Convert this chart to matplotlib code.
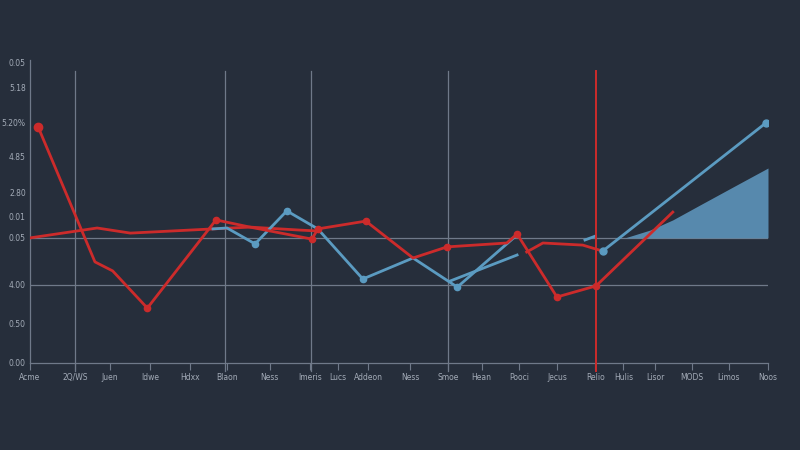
import matplotlib
matplotlib.use('Agg')
import matplotlib.pyplot as plt
import numpy as np

BG = '#262e3b'
GRID = '#6f7989'
TXT = '#a3abb7'
RED = '#cc2b2b'
BLUE = '#5b9bc1'

# --- data ---
x_ticks = [0, 6.1, 10.8, 16.3, 21.7, 26.7, 32.5, 37.9, 41.7, 45.8, 51.5,
           56.6, 61.2, 66.3, 71.4, 76.6, 80.4, 84.7, 89.7, 94.7, 100]
x_labels = ['Acme', '2Q/WS', 'Juen', 'Idwe', 'Hdxx', 'Blaon', 'Ness', 'Imeris',
            'Lucs', 'Addeon', 'Ness', 'Smoe', 'Hean', 'Pooci', 'Jecus', 'Relio',
            'Hulis', 'Lisor', 'MODS', 'Limos', 'Noos']
y_ticks = [0, 13.3, 26, 41.7, 49, 57, 68.7, 80.3, 91.7, 100.3]
y_labels = ['0.00', '0.50', '4.00', '0.05', '0.01', '2.80', '4.85', '5.20%', '5.18', '0.05']

red_spike_x = [1.1, 8.8, 11.2, 15.9, 25.2, 29.8, 38.2, 39.0, 45.5, 51.9, 56.5,
               64.6, 66.0, 71.4, 76.7, 87.1]
red_spike_y = [78.7, 33.7, 30.7, 18.3, 47.7, 45.3, 41.3, 44.7, 47.3, 35.0, 38.7,
               40.0, 43.0, 22.0, 25.7, 50.3]
red_spike_mk = [0, 3, 4, 6, 7, 8, 10, 12, 13, 14]

red_flat_x = [0, 9.1, 13.6, 24.8, 29.8, 36.6, 39.0, np.nan, 67.3, 69.5, 74.9, 77.6]
red_flat_y = [41.7, 45.0, 43.3, 44.7, 45.3, 44.3, 44.0, np.nan, 37.0, 40.0, 39.3, 37.3]

blue_x = [24.8, 26.7, 30.5, 34.8, 39.0, 45.1, 51.9, 57.9, 66.0]
blue_y = [44.7, 45.0, 39.7, 50.7, 44.7, 28.0, 35.0, 25.3, 42.7]
blue_mk = [2, 3, 5, 7]

blue2_x = [56.9, 66.0, np.nan, 75.2, 76.6, np.nan, 77.6, 99.7]
blue2_y = [27.3, 36.0, np.nan, 41.0, 42.3, np.nan, 37.3, 80.0]
blue2_mk = [6, 7]

fill_x = [80.6, 84.0, 87.1, 90.8, 95.5, 100]
fill_y = [41.7, 44.3, 47.7, 52.7, 59.0, 65.0]
fill_base = 41.7

vgrid = [6.1, 26.4, 38.1, 56.6]
hgrid = [41.7, 26.0]
marker_x = 76.7

fig = plt.figure(figsize=(8, 4.5), dpi=100)
fig.patch.set_facecolor(BG)
ax = fig.add_axes([30 / 800, 87 / 450, 738 / 800, 303 / 450])
ax.set_facecolor(BG)
ax.set_xlim(0, 100)
ax.set_ylim(0, 101)

for s in ['top', 'right']:
    ax.spines[s].set_visible(False)
for s in ['left', 'bottom']:
    ax.spines[s].set_color(GRID)
    ax.spines[s].set_linewidth(0.9)

for v in vgrid:
    ax.plot([v, v], [-2.5, 97.5], color=GRID, lw=0.9, clip_on=False, zorder=1)
for h in hgrid:
    ax.axhline(h, color=GRID, lw=0.9, zorder=1)
ax.plot([marker_x, marker_x], [-2.5, 97.5], color=RED, lw=1.4, clip_on=False, zorder=4)

ax.fill_between(fill_x, fill_base, fill_y, color='#5a8fb4', alpha=0.95, lw=0, zorder=2)

ax.plot(red_flat_x, red_flat_y, color=RED, lw=2.0, zorder=3)
ax.plot(blue_x, blue_y, color=BLUE, lw=2.0, zorder=3,
        marker='o', markersize=4.5, markevery=blue_mk)
ax.plot(blue2_x, blue2_y, color=BLUE, lw=2.0, zorder=3,
        marker='o', markersize=5, markevery=blue2_mk)
ax.plot(red_spike_x, red_spike_y, color=RED, lw=2.0, zorder=3,
        marker='o', markersize=4.5, markevery=red_spike_mk)
ax.plot(red_spike_x[0], red_spike_y[0], 'o', color=RED, markersize=6, zorder=5)

ax.set_xticks(x_ticks)
ax.set_xticklabels(x_labels)
ax.set_yticks(y_ticks)
ax.set_yticklabels(y_labels)
ax.tick_params(axis='x', colors=GRID, labelcolor=TXT, labelsize=5.5, length=5, width=0.8, pad=2)
ax.tick_params(axis='y', length=0, labelcolor=TXT, labelsize=5.5, pad=3)

fig.savefig('out.png', dpi=100, facecolor=BG)
